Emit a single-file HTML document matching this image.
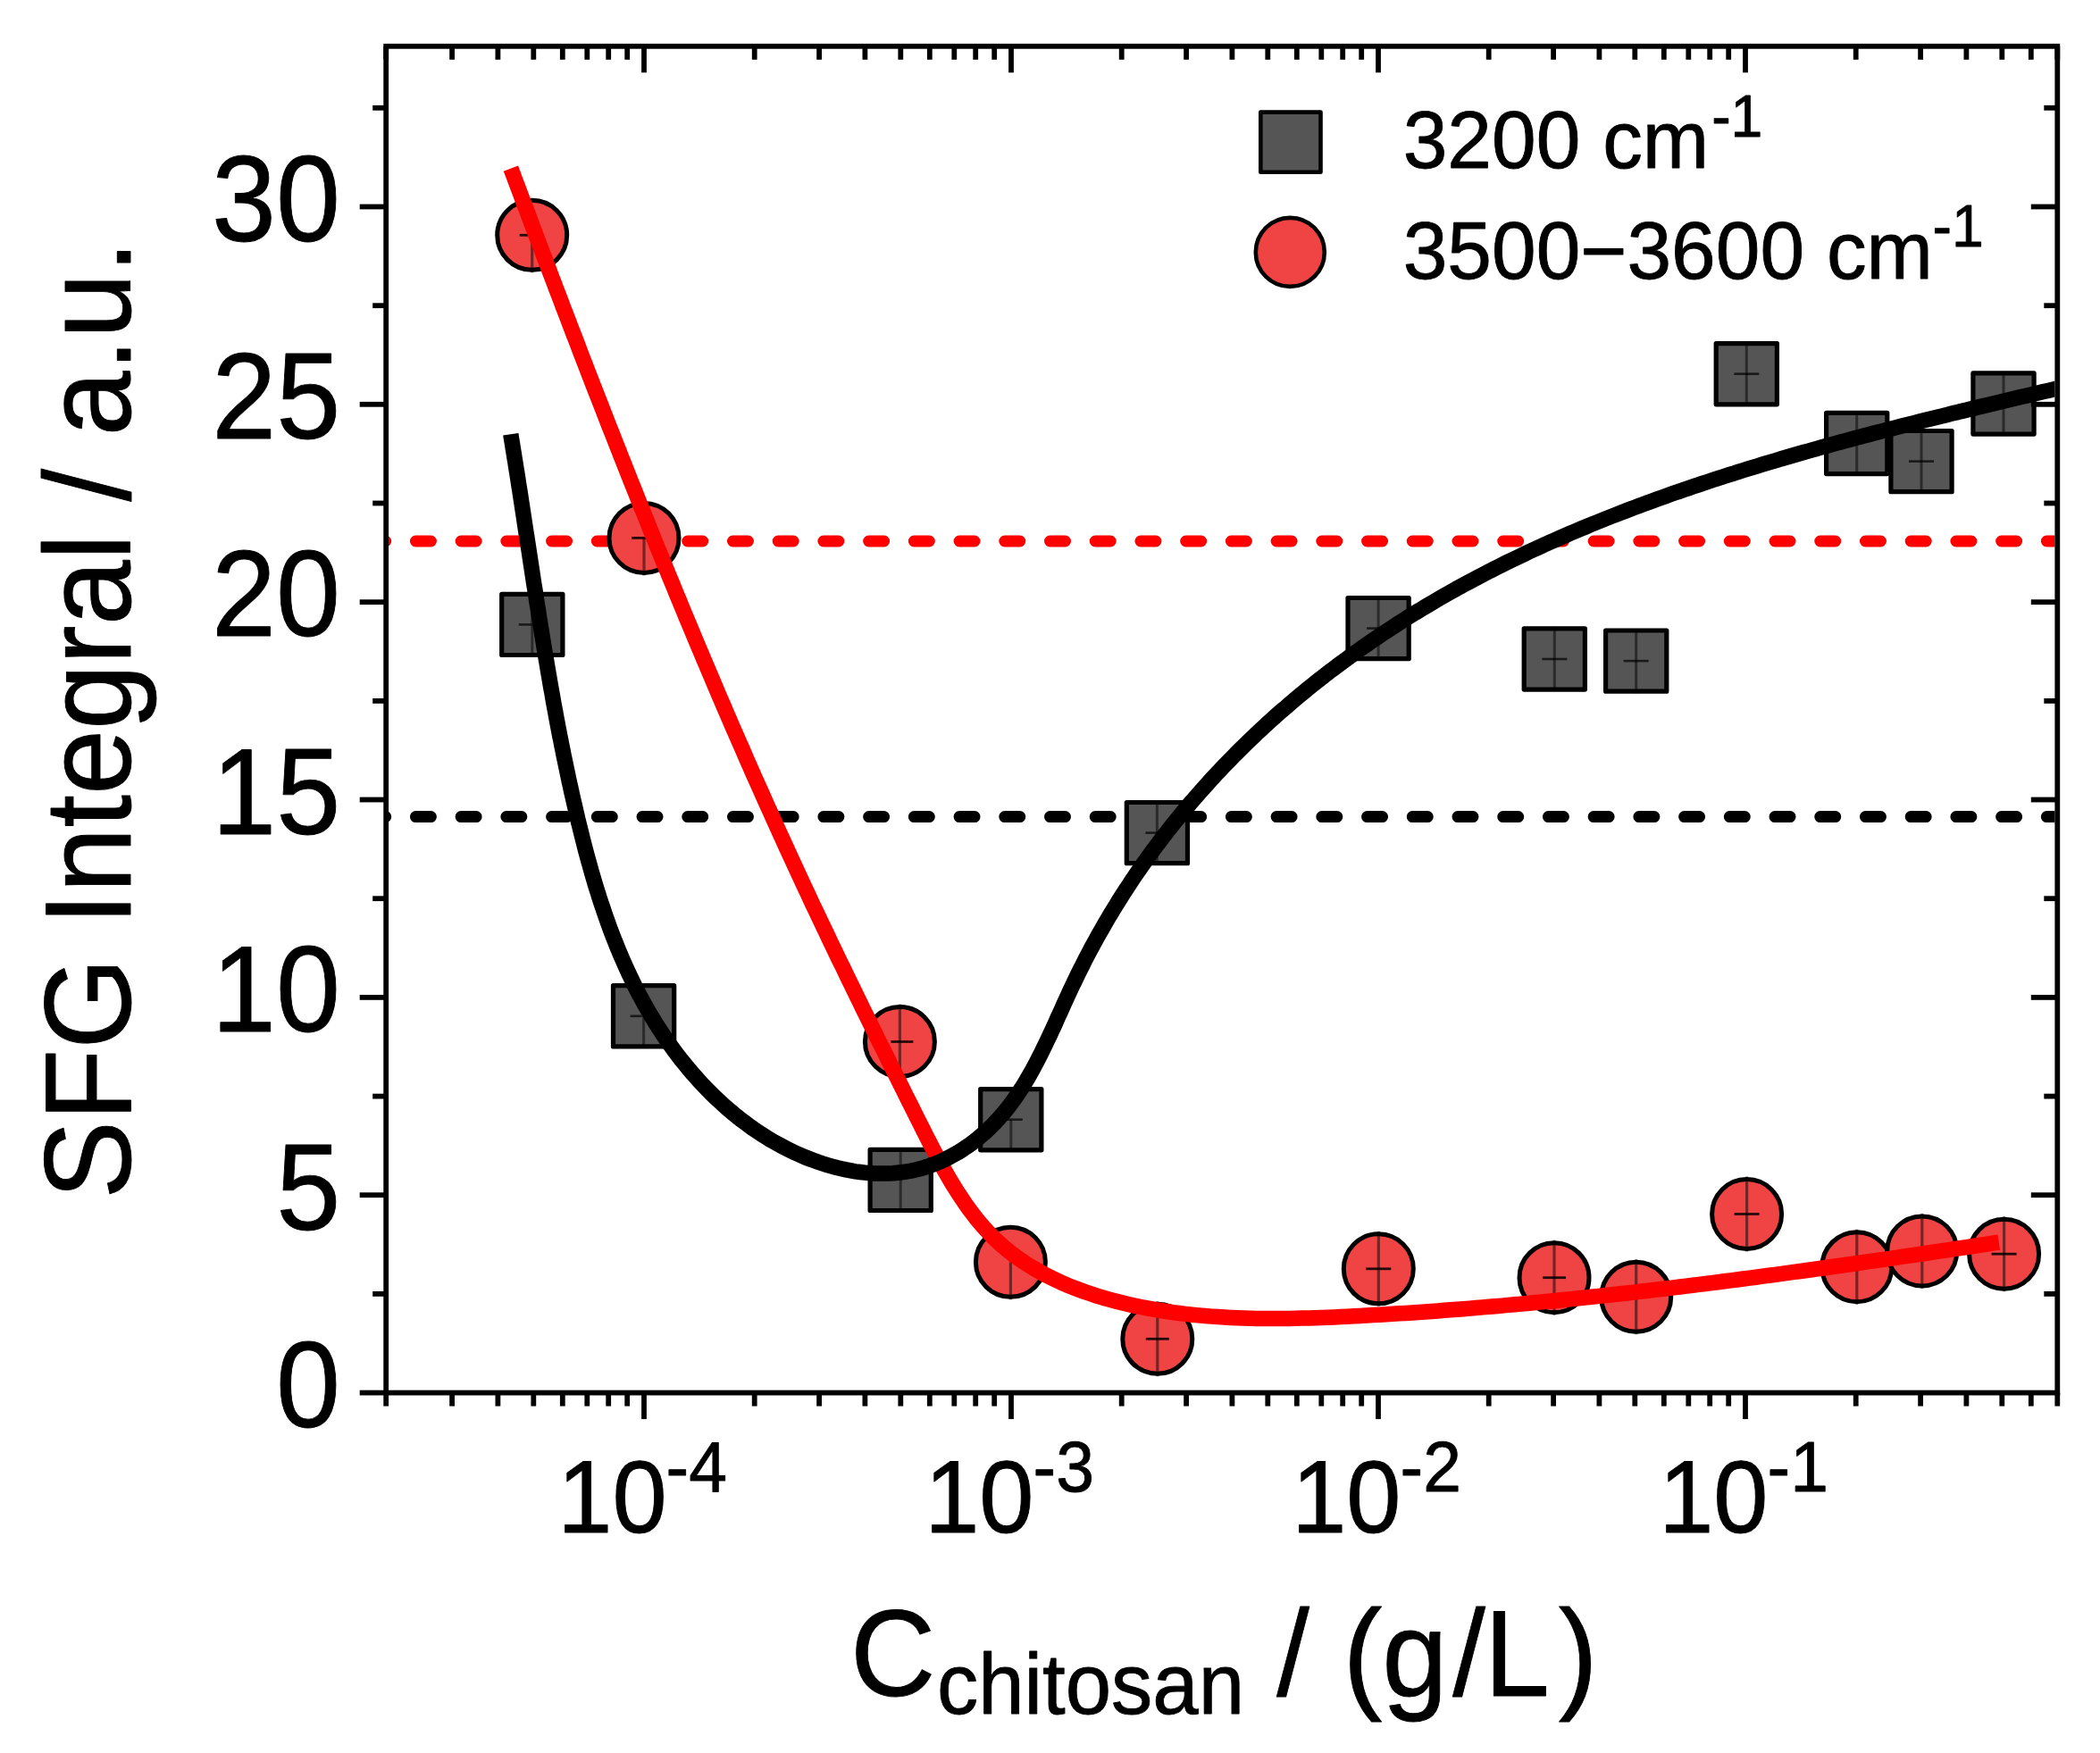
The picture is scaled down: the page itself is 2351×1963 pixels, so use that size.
<!DOCTYPE html>
<html lang="en"><head><meta charset="utf-8"><title>SFG Integral vs chitosan concentration</title><style>html,body{margin:0;padding:0;background:#fff;}body{width:2351px;height:1963px;overflow:hidden;}svg{display:block;}</style></head><body>
<svg width="2351" height="1963" viewBox="0 0 2351 1963" font-family='"Liberation Sans", sans-serif' fill="#000">
<style>text{stroke:#000;stroke-width:0.9px;stroke-linejoin:round}</style>
<rect x="0" y="0" width="2351" height="1963" fill="#fff"/>
<defs><clipPath id="pc"><rect x="432.2" y="51.8" width="1868.2" height="1507.8"/></clipPath></defs>
<g clip-path="url(#pc)" fill="none" stroke-linecap="round">
<line x1="414.7" y1="606.0" x2="2343.3" y2="606.0" stroke="#ff0000" stroke-width="13" stroke-dasharray="17 33.72"/>
<line x1="414.7" y1="914.6" x2="2343.3" y2="914.6" stroke="#000" stroke-width="13" stroke-dasharray="17 33.72"/>
</g>
<g>
<rect x="561.7" y="665.3" width="68.2" height="68.2" fill="#555555" stroke="#000" stroke-width="5.2" stroke-linejoin="round"/>
<line x1="595.8" y1="663.3" x2="595.8" y2="735.5" stroke="#000" stroke-opacity="0.5" stroke-width="3"/>
<line x1="580.8" y1="699.4" x2="595.8" y2="699.4" stroke="#000" stroke-opacity="0.7" stroke-width="2.6"/>
<rect x="686.5" y="1103.7" width="68.2" height="68.2" fill="#555555" stroke="#000" stroke-width="5.2" stroke-linejoin="round"/>
<line x1="720.6" y1="1137.8" x2="720.6" y2="1173.9" stroke="#000" stroke-opacity="0.5" stroke-width="3"/>
<line x1="705.6" y1="1137.8" x2="718.6" y2="1137.8" stroke="#000" stroke-opacity="0.7" stroke-width="2.6"/>
<rect x="974.1" y="1287.3" width="68.2" height="68.2" fill="#555555" stroke="#000" stroke-width="5.2" stroke-linejoin="round"/>
<line x1="1008.2" y1="1285.3" x2="1008.2" y2="1357.5" stroke="#000" stroke-opacity="0.5" stroke-width="3"/>
<rect x="1097.7" y="1219.6" width="68.2" height="68.2" fill="#555555" stroke="#000" stroke-width="5.2" stroke-linejoin="round"/>
<line x1="1131.8" y1="1253.7" x2="1131.8" y2="1289.8" stroke="#000" stroke-opacity="0.5" stroke-width="3"/>
<line x1="1126.8" y1="1253.7" x2="1144.8" y2="1253.7" stroke="#000" stroke-opacity="0.7" stroke-width="2.6"/>
<rect x="1261.3" y="898.5" width="68.2" height="68.2" fill="#555555" stroke="#000" stroke-width="5.2" stroke-linejoin="round"/>
<line x1="1295.4" y1="896.5" x2="1295.4" y2="968.7" stroke="#000" stroke-opacity="0.5" stroke-width="3"/>
<line x1="1282.4" y1="932.6" x2="1298.4" y2="932.6" stroke="#000" stroke-opacity="0.7" stroke-width="2.6"/>
<rect x="1509.0" y="669.5" width="68.2" height="68.2" fill="#555555" stroke="#000" stroke-width="5.2" stroke-linejoin="round"/>
<line x1="1543.1" y1="667.5" x2="1543.1" y2="739.7" stroke="#000" stroke-opacity="0.5" stroke-width="3"/>
<line x1="1530.1" y1="703.6" x2="1546.1" y2="703.6" stroke="#000" stroke-opacity="0.7" stroke-width="2.6"/>
<rect x="1706.2" y="703.9" width="68.2" height="68.2" fill="#555555" stroke="#000" stroke-width="5.2" stroke-linejoin="round"/>
<line x1="1740.3" y1="701.9" x2="1740.3" y2="774.1" stroke="#000" stroke-opacity="0.5" stroke-width="3"/>
<line x1="1726.3" y1="738.0" x2="1754.3" y2="738.0" stroke="#000" stroke-opacity="0.7" stroke-width="2.6"/>
<rect x="1797.6" y="706.0" width="68.2" height="68.2" fill="#555555" stroke="#000" stroke-width="5.2" stroke-linejoin="round"/>
<line x1="1831.7" y1="704.0" x2="1831.7" y2="776.2" stroke="#000" stroke-opacity="0.5" stroke-width="3"/>
<line x1="1817.7" y1="740.1" x2="1845.7" y2="740.1" stroke="#000" stroke-opacity="0.7" stroke-width="2.6"/>
<rect x="1921.2" y="384.6" width="68.2" height="68.2" fill="#555555" stroke="#000" stroke-width="5.2" stroke-linejoin="round"/>
<line x1="1955.3" y1="382.6" x2="1955.3" y2="454.8" stroke="#000" stroke-opacity="0.5" stroke-width="3"/>
<line x1="1941.3" y1="418.7" x2="1969.3" y2="418.7" stroke="#000" stroke-opacity="0.7" stroke-width="2.6"/>
<rect x="2044.6" y="462.4" width="68.2" height="68.2" fill="#555555" stroke="#000" stroke-width="5.2" stroke-linejoin="round"/>
<line x1="2078.7" y1="460.4" x2="2078.7" y2="532.6" stroke="#000" stroke-opacity="0.5" stroke-width="3"/>
<rect x="2116.9" y="482.5" width="68.2" height="68.2" fill="#555555" stroke="#000" stroke-width="5.2" stroke-linejoin="round"/>
<line x1="2151.0" y1="480.5" x2="2151.0" y2="552.7" stroke="#000" stroke-opacity="0.5" stroke-width="3"/>
<line x1="2137.0" y1="516.6" x2="2165.0" y2="516.6" stroke="#000" stroke-opacity="0.7" stroke-width="2.6"/>
<rect x="2208.9" y="417.9" width="68.2" height="68.2" fill="#555555" stroke="#000" stroke-width="5.2" stroke-linejoin="round"/>
<line x1="2243.0" y1="415.9" x2="2243.0" y2="488.1" stroke="#000" stroke-opacity="0.5" stroke-width="3"/>
</g>
<g>
<circle cx="595.7" cy="263.3" r="39.0" fill="#f04444" stroke="#000" stroke-width="5.0"/>
<line x1="595.7" y1="263.3" x2="595.7" y2="305.3" stroke="#000" stroke-opacity="0.5" stroke-width="3.2"/>
<line x1="581.7" y1="263.3" x2="592.7" y2="263.3" stroke="#000" stroke-opacity="0.85" stroke-width="2.8"/>
<circle cx="721.0" cy="602.4" r="39.0" fill="#f04444" stroke="#000" stroke-width="5.0"/>
<line x1="721.0" y1="602.4" x2="721.0" y2="644.4" stroke="#000" stroke-opacity="0.5" stroke-width="3.2"/>
<line x1="707.0" y1="602.4" x2="724.0" y2="602.4" stroke="#000" stroke-opacity="0.85" stroke-width="2.8"/>
<circle cx="1007.4" cy="1166.5" r="39.0" fill="#f04444" stroke="#000" stroke-width="5.0"/>
<line x1="1007.4" y1="1124.5" x2="1007.4" y2="1208.5" stroke="#000" stroke-opacity="0.5" stroke-width="3.2"/>
<line x1="997.4" y1="1166.5" x2="1022.4" y2="1166.5" stroke="#000" stroke-opacity="0.85" stroke-width="2.8"/>
<circle cx="1131.4" cy="1413.3" r="39.0" fill="#f04444" stroke="#000" stroke-width="5.0"/>
<line x1="1131.4" y1="1413.3" x2="1131.4" y2="1455.3" stroke="#000" stroke-opacity="0.5" stroke-width="3.2"/>
<circle cx="1295.8" cy="1499.3" r="39.0" fill="#f04444" stroke="#000" stroke-width="5.0"/>
<line x1="1295.8" y1="1457.3" x2="1295.8" y2="1541.3" stroke="#000" stroke-opacity="0.5" stroke-width="3.2"/>
<line x1="1282.8" y1="1499.3" x2="1308.8" y2="1499.3" stroke="#000" stroke-opacity="0.85" stroke-width="2.8"/>
<circle cx="1543.3" cy="1420.8" r="39.0" fill="#f04444" stroke="#000" stroke-width="5.0"/>
<line x1="1543.3" y1="1378.8" x2="1543.3" y2="1462.8" stroke="#000" stroke-opacity="0.5" stroke-width="3.2"/>
<line x1="1529.3" y1="1420.8" x2="1557.3" y2="1420.8" stroke="#000" stroke-opacity="0.85" stroke-width="2.8"/>
<circle cx="1740.0" cy="1430.7" r="39.0" fill="#f04444" stroke="#000" stroke-width="5.0"/>
<line x1="1740.0" y1="1388.7" x2="1740.0" y2="1472.7" stroke="#000" stroke-opacity="0.5" stroke-width="3.2"/>
<line x1="1727.0" y1="1430.7" x2="1753.0" y2="1430.7" stroke="#000" stroke-opacity="0.85" stroke-width="2.8"/>
<circle cx="1831.7" cy="1452.2" r="39.0" fill="#f04444" stroke="#000" stroke-width="5.0"/>
<line x1="1831.7" y1="1410.2" x2="1831.7" y2="1494.2" stroke="#000" stroke-opacity="0.5" stroke-width="3.2"/>
<circle cx="1955.6" cy="1359.5" r="39.0" fill="#f04444" stroke="#000" stroke-width="5.0"/>
<line x1="1955.6" y1="1317.5" x2="1955.6" y2="1401.5" stroke="#000" stroke-opacity="0.5" stroke-width="3.2"/>
<line x1="1941.6" y1="1359.5" x2="1969.6" y2="1359.5" stroke="#000" stroke-opacity="0.85" stroke-width="2.8"/>
<circle cx="2078.8" cy="1418.7" r="39.0" fill="#f04444" stroke="#000" stroke-width="5.0"/>
<line x1="2078.8" y1="1376.7" x2="2078.8" y2="1460.7" stroke="#000" stroke-opacity="0.5" stroke-width="3.2"/>
<circle cx="2151.8" cy="1400.9" r="39.0" fill="#f04444" stroke="#000" stroke-width="5.0"/>
<line x1="2151.8" y1="1358.9" x2="2151.8" y2="1442.9" stroke="#000" stroke-opacity="0.5" stroke-width="3.2"/>
<line x1="2137.8" y1="1400.9" x2="2151.8" y2="1400.9" stroke="#000" stroke-opacity="0.85" stroke-width="2.8"/>
<circle cx="2243.6" cy="1404.2" r="39.0" fill="#f04444" stroke="#000" stroke-width="5.0"/>
<line x1="2243.6" y1="1362.2" x2="2243.6" y2="1446.2" stroke="#000" stroke-opacity="0.5" stroke-width="3.2"/>
<line x1="2229.6" y1="1404.2" x2="2257.6" y2="1404.2" stroke="#000" stroke-opacity="0.85" stroke-width="2.8"/>
</g>
<g clip-path="url(#pc)" fill="none" stroke-linejoin="round" stroke-linecap="butt">
<path d="M571.9 188.6 L574.4 195.3 L576.9 202.0 L579.5 208.8 L582.0 215.5 L584.5 222.2 L587.0 229.0 L589.6 235.7 L592.1 242.4 L594.6 249.1 L597.2 255.9 L599.7 262.6 L602.2 269.3 L604.8 276.1 L607.3 282.8 L609.9 289.5 L612.4 296.3 L615.0 303.0 L617.5 309.7 L620.1 316.4 L622.6 323.2 L625.2 329.9 L627.8 336.6 L630.3 343.4 L632.9 350.1 L635.5 356.8 L638.0 363.5 L640.6 370.3 L643.2 377.0 L645.8 383.7 L648.4 390.5 L650.9 397.2 L653.5 403.9 L656.1 410.6 L658.7 417.3 L661.3 424.1 L663.9 430.8 L666.5 437.5 L669.1 444.2 L671.8 450.9 L674.4 457.6 L677.0 464.4 L679.6 471.1 L682.2 477.8 L684.9 484.5 L687.5 491.2 L690.1 497.9 L692.8 504.6 L695.4 511.3 L698.1 518.0 L700.7 524.7 L703.4 531.4 L706.0 538.1 L708.7 544.8 L711.4 551.5 L714.0 558.2 L716.7 564.9 L719.4 571.6 L722.1 578.3 L724.8 584.9 L727.4 591.6 L730.1 598.3 L732.8 605.0 L735.5 611.7 L738.3 618.3 L741.0 625.0 L743.7 631.7 L746.4 638.3 L749.1 645.0 L751.9 651.7 L754.6 658.3 L757.3 665.0 L760.1 671.7 L762.8 678.3 L765.6 685.0 L768.3 691.6 L771.1 698.2 L773.9 704.9 L776.6 711.5 L779.4 718.2 L782.2 724.8 L785.0 731.4 L787.8 738.1 L790.6 744.7 L793.4 751.3 L796.2 757.9 L799.0 764.5 L801.8 771.2 L804.6 777.8 L807.5 784.4 L810.3 791.0 L813.1 797.6 L816.0 804.2 L818.8 810.8 L821.7 817.4 L824.5 823.9 L827.4 830.5 L830.3 837.1 L833.2 843.7 L836.0 850.3 L838.9 856.8 L841.8 863.4 L844.7 870.0 L847.6 876.5 L850.6 883.1 L853.5 889.6 L856.4 896.2 L859.3 902.7 L862.3 909.2 L865.2 915.8 L868.2 922.3 L871.1 928.8 L874.1 935.4 L877.1 941.9 L880.0 948.4 L883.0 954.9 L886.0 961.4 L889.0 967.9 L892.0 974.4 L895.0 980.9 L898.0 987.4 L901.0 993.9 L904.1 1000.3 L907.1 1006.8 L910.1 1013.3 L913.2 1019.7 L916.3 1026.2 L919.3 1032.7 L922.4 1039.1 L925.5 1045.6 L928.5 1052.0 L931.6 1058.5 L934.7 1064.9 L937.8 1071.4 L940.9 1077.8 L944.1 1084.2 L947.2 1090.7 L950.3 1097.1 L953.4 1103.6 L956.6 1110.0 L959.7 1116.5 L962.9 1122.9 L966.0 1129.4 L969.2 1135.8 L972.4 1142.3 L975.6 1148.8 L978.8 1155.2 L981.9 1161.7 L985.1 1168.2 L988.4 1174.6 L991.6 1181.1 L994.8 1187.6 L998.0 1194.1 L1001.2 1200.6 L1004.5 1207.1 L1007.7 1213.6 L1011.0 1220.1 L1014.2 1226.7 L1017.5 1233.2 L1020.8 1239.7 L1024.0 1246.3 L1027.3 1252.9 L1030.6 1259.4 L1033.9 1266.0 L1037.2 1272.6 L1040.6 1279.1 L1043.9 1285.7 L1047.4 1292.2 L1050.8 1298.6 L1054.3 1305.1 L1057.9 1311.4 L1061.5 1317.7 L1065.2 1324.0 L1069.0 1330.1 L1072.8 1336.2 L1076.8 1342.2 L1080.8 1348.1 L1084.9 1353.9 L1089.2 1359.5 L1093.5 1365.1 L1098.0 1370.5 L1102.6 1375.7 L1107.4 1380.9 L1112.2 1385.8 L1117.3 1390.6 L1122.4 1395.3 L1127.8 1399.7 L1133.2 1404.0 L1138.8 1408.2 L1144.5 1412.2 L1150.4 1416.0 L1156.3 1419.7 L1162.4 1423.2 L1168.5 1426.6 L1174.8 1429.8 L1181.2 1432.9 L1187.6 1435.9 L1194.2 1438.8 L1200.8 1441.5 L1207.5 1444.0 L1214.3 1446.5 L1221.1 1448.8 L1227.9 1451.1 L1234.9 1453.2 L1241.8 1455.1 L1248.9 1457.0 L1255.9 1458.8 L1263.0 1460.5 L1270.1 1462.1 L1277.2 1463.5 L1284.3 1464.9 L1291.4 1466.2 L1298.6 1467.4 L1305.7 1468.5 L1312.9 1469.6 L1320.1 1470.5 L1327.3 1471.4 L1334.5 1472.2 L1341.7 1472.9 L1348.9 1473.5 L1356.1 1474.1 L1363.3 1474.6 L1370.6 1475.1 L1377.8 1475.5 L1385.1 1475.8 L1392.3 1476.0 L1399.6 1476.2 L1406.8 1476.4 L1414.1 1476.5 L1421.4 1476.5 L1428.6 1476.5 L1435.9 1476.5 L1443.2 1476.4 L1450.4 1476.3 L1457.7 1476.1 L1465.0 1476.0 L1472.3 1475.7 L1479.5 1475.5 L1486.8 1475.2 L1494.1 1474.9 L1501.3 1474.5 L1508.6 1474.2 L1515.8 1473.8 L1523.1 1473.4 L1530.3 1473.0 L1537.6 1472.6 L1544.8 1472.2 L1552.0 1471.8 L1559.2 1471.3 L1566.5 1470.8 L1573.7 1470.4 L1580.9 1469.9 L1588.1 1469.4 L1595.3 1468.9 L1602.5 1468.4 L1609.7 1467.9 L1616.9 1467.3 L1624.0 1466.8 L1631.2 1466.2 L1638.4 1465.7 L1645.6 1465.1 L1652.7 1464.5 L1659.9 1463.9 L1667.1 1463.3 L1674.2 1462.7 L1681.4 1462.1 L1688.5 1461.4 L1695.7 1460.8 L1702.8 1460.1 L1709.9 1459.5 L1717.1 1458.8 L1724.2 1458.1 L1731.3 1457.4 L1738.5 1456.7 L1745.6 1456.0 L1752.7 1455.3 L1759.8 1454.6 L1767.0 1453.8 L1774.1 1453.1 L1781.2 1452.3 L1788.3 1451.6 L1795.4 1450.8 L1802.5 1450.0 L1809.7 1449.3 L1816.8 1448.5 L1823.9 1447.7 L1831.0 1446.9 L1838.1 1446.0 L1845.2 1445.2 L1852.3 1444.4 L1859.4 1443.5 L1866.5 1442.7 L1873.6 1441.9 L1880.7 1441.0 L1887.8 1440.1 L1894.9 1439.3 L1902.0 1438.4 L1909.1 1437.5 L1916.2 1436.6 L1923.3 1435.7 L1930.4 1434.8 L1937.5 1433.9 L1944.6 1433.0 L1951.7 1432.0 L1958.8 1431.1 L1965.9 1430.2 L1973.0 1429.2 L1980.2 1428.3 L1987.3 1427.3 L1994.4 1426.4 L2001.5 1425.4 L2008.6 1424.4 L2015.7 1423.5 L2022.8 1422.5 L2030.0 1421.5 L2037.1 1420.5 L2044.2 1419.5 L2051.3 1418.5 L2058.5 1417.5 L2065.6 1416.5 L2072.7 1415.5 L2079.9 1414.5 L2087.0 1413.4 L2094.1 1412.4 L2101.3 1411.4 L2108.4 1410.3 L2115.6 1409.3 L2122.7 1408.3 L2129.9 1407.2 L2137.0 1406.2 L2144.2 1405.1 L2151.4 1404.1 L2158.6 1403.0 L2165.7 1401.9 L2172.9 1400.9 L2180.1 1399.8 L2187.3 1398.7 L2194.5 1397.6 L2201.7 1396.6 L2208.9 1395.5 L2216.1 1394.4 L2223.3 1393.3 L2230.5 1392.2 L2237.7 1391.1" stroke="#ff0000" stroke-width="17.5"/>
<path d="M571.8 486.2 L572.6 491.5 L573.5 496.8 L574.3 502.0 L575.2 507.3 L576.0 512.6 L576.9 517.9 L577.7 523.2 L578.6 528.5 L579.4 533.7 L580.2 539.0 L581.0 544.3 L581.9 549.6 L582.7 554.9 L583.5 560.2 L584.3 565.4 L585.1 570.7 L585.9 576.0 L586.7 581.3 L587.5 586.6 L588.3 591.9 L589.1 597.1 L590.0 602.4 L590.8 607.7 L591.6 613.0 L592.4 618.3 L593.2 623.6 L594.0 628.8 L594.8 634.1 L595.6 639.4 L596.4 644.7 L597.2 650.0 L598.0 655.2 L598.9 660.5 L599.7 665.8 L600.5 671.1 L601.3 676.4 L602.2 681.6 L603.0 686.9 L603.8 692.2 L604.7 697.5 L605.5 702.7 L606.4 708.0 L607.2 713.3 L608.1 718.6 L608.9 723.8 L609.8 729.1 L610.7 734.4 L611.6 739.6 L612.5 744.9 L613.4 750.2 L614.3 755.4 L615.2 760.7 L616.1 766.0 L617.0 771.2 L618.0 776.5 L618.9 781.8 L619.8 787.0 L620.8 792.3 L621.8 797.5 L622.7 802.8 L623.7 808.0 L624.7 813.3 L625.7 818.5 L626.7 823.8 L627.8 829.0 L628.8 834.3 L629.9 839.5 L630.9 844.8 L632.0 850.0 L633.1 855.3 L634.2 860.5 L635.3 865.7 L636.4 871.0 L637.5 876.2 L638.7 881.4 L639.8 886.7 L641.0 891.9 L642.2 897.1 L643.4 902.3 L644.6 907.6 L645.8 912.8 L647.0 918.0 L648.3 923.2 L649.6 928.4 L650.9 933.6 L652.2 938.8 L653.5 944.0 L654.8 949.2 L656.2 954.4 L657.6 959.6 L659.0 964.8 L660.5 969.9 L661.9 975.1 L663.4 980.2 L664.9 985.4 L666.4 990.5 L668.0 995.6 L669.6 1000.7 L671.2 1005.8 L672.9 1010.9 L674.6 1015.9 L676.3 1021.0 L678.0 1026.0 L679.8 1031.0 L681.6 1036.1 L683.4 1041.1 L685.3 1046.0 L687.2 1051.0 L689.2 1055.9 L691.2 1060.9 L693.2 1065.8 L695.3 1070.7 L697.4 1075.5 L699.5 1080.4 L701.7 1085.2 L703.9 1090.0 L706.2 1094.8 L708.5 1099.6 L710.8 1104.3 L713.2 1109.1 L715.7 1113.8 L718.2 1118.4 L720.7 1123.1 L723.3 1127.7 L725.9 1132.3 L728.6 1136.9 L731.4 1141.4 L734.1 1146.0 L737.0 1150.5 L739.9 1154.9 L742.8 1159.4 L745.8 1163.8 L748.9 1168.2 L752.0 1172.5 L755.1 1176.8 L758.3 1181.1 L761.6 1185.4 L765.0 1189.6 L768.4 1193.8 L771.8 1197.9 L775.3 1202.0 L778.9 1206.1 L782.5 1210.1 L786.2 1214.1 L789.9 1218.0 L793.7 1221.9 L797.5 1225.7 L801.4 1229.5 L805.4 1233.2 L809.4 1236.9 L813.4 1240.5 L817.6 1244.0 L821.7 1247.5 L825.9 1250.9 L830.2 1254.3 L834.6 1257.6 L838.9 1260.8 L843.4 1264.0 L847.9 1267.0 L852.4 1270.0 L857.0 1272.9 L861.6 1275.8 L866.3 1278.5 L871.1 1281.2 L875.9 1283.8 L880.7 1286.3 L885.6 1288.8 L890.6 1291.1 L895.6 1293.3 L900.6 1295.5 L905.7 1297.5 L910.8 1299.4 L916.0 1301.3 L921.1 1303.0 L926.3 1304.6 L931.6 1306.1 L936.8 1307.5 L942.0 1308.7 L947.3 1309.9 L952.6 1310.9 L957.8 1311.8 L963.1 1312.5 L968.4 1313.1 L973.6 1313.6 L978.9 1313.9 L984.1 1314.1 L989.3 1314.1 L994.5 1314.0 L999.7 1313.8 L1004.8 1313.3 L1010.0 1312.7 L1015.0 1312.0 L1020.1 1311.1 L1025.1 1310.0 L1030.0 1308.8 L1034.9 1307.3 L1039.8 1305.8 L1044.6 1304.1 L1049.3 1302.2 L1054.0 1300.2 L1058.6 1298.0 L1063.2 1295.7 L1067.7 1293.2 L1072.2 1290.7 L1076.6 1288.0 L1080.9 1285.1 L1085.1 1282.2 L1089.3 1279.1 L1093.4 1275.9 L1097.4 1272.6 L1101.4 1269.2 L1105.2 1265.7 L1109.0 1262.1 L1112.7 1258.4 L1116.3 1254.6 L1119.8 1250.7 L1123.2 1246.8 L1126.5 1242.7 L1129.8 1238.6 L1132.9 1234.4 L1136.0 1230.1 L1139.0 1225.8 L1141.9 1221.4 L1144.8 1216.9 L1147.6 1212.4 L1150.3 1207.8 L1153.0 1203.1 L1155.6 1198.5 L1158.2 1193.7 L1160.7 1189.0 L1163.2 1184.1 L1165.6 1179.3 L1168.0 1174.4 L1170.4 1169.5 L1172.7 1164.6 L1175.1 1159.6 L1177.4 1154.6 L1179.7 1149.7 L1182.0 1144.6 L1184.2 1139.6 L1186.5 1134.6 L1188.8 1129.6 L1191.0 1124.6 L1193.3 1119.6 L1195.6 1114.5 L1197.9 1109.5 L1200.2 1104.6 L1202.6 1099.6 L1205.0 1094.6 L1207.4 1089.7 L1209.8 1084.8 L1212.3 1079.9 L1214.7 1075.0 L1217.2 1070.2 L1219.8 1065.4 L1222.3 1060.6 L1224.9 1055.8 L1227.6 1051.0 L1230.2 1046.3 L1232.9 1041.6 L1235.6 1036.9 L1238.3 1032.2 L1241.0 1027.5 L1243.8 1022.9 L1246.6 1018.3 L1249.4 1013.7 L1252.2 1009.1 L1255.1 1004.5 L1258.0 1000.0 L1260.9 995.5 L1263.9 991.0 L1266.8 986.5 L1269.8 982.0 L1272.8 977.6 L1275.9 973.2 L1278.9 968.8 L1282.0 964.4 L1285.1 960.1 L1288.3 955.7 L1291.4 951.4 L1294.6 947.1 L1297.8 942.9 L1301.0 938.6 L1304.3 934.4 L1307.5 930.2 L1310.8 926.0 L1314.2 921.8 L1317.5 917.7 L1320.9 913.6 L1324.2 909.4 L1327.6 905.4 L1331.1 901.3 L1334.5 897.2 L1338.0 893.2 L1341.5 889.2 L1345.0 885.2 L1348.5 881.3 L1352.1 877.3 L1355.6 873.4 L1359.2 869.5 L1362.8 865.6 L1366.5 861.8 L1370.1 857.9 L1373.8 854.1 L1377.5 850.3 L1381.2 846.5 L1384.9 842.8 L1388.7 839.0 L1392.5 835.3 L1396.2 831.6 L1400.1 827.9 L1403.9 824.3 L1407.7 820.6 L1411.6 817.0 L1415.5 813.4 L1419.4 809.8 L1423.3 806.3 L1427.2 802.7 L1431.2 799.2 L1435.2 795.7 L1439.2 792.3 L1443.2 788.8 L1447.2 785.4 L1451.3 781.9 L1455.3 778.6 L1459.4 775.2 L1463.5 771.8 L1467.6 768.5 L1471.8 765.2 L1475.9 761.9 L1480.1 758.6 L1484.2 755.4 L1488.4 752.1 L1492.7 748.9 L1496.9 745.7 L1501.1 742.6 L1505.4 739.4 L1509.7 736.3 L1514.0 733.2 L1518.3 730.1 L1522.6 727.0 L1526.9 723.9 L1531.3 720.9 L1535.6 717.9 L1540.0 714.9 L1544.4 711.9 L1548.8 709.0 L1553.3 706.1 L1557.7 703.2 L1562.2 700.3 L1566.6 697.4 L1571.1 694.6 L1575.6 691.7 L1580.1 688.9 L1584.6 686.1 L1589.2 683.4 L1593.7 680.6 L1598.3 677.9 L1602.8 675.2 L1607.4 672.5 L1612.0 669.8 L1616.6 667.2 L1621.3 664.5 L1625.9 661.9 L1630.5 659.3 L1635.2 656.8 L1639.9 654.2 L1644.5 651.7 L1649.2 649.2 L1653.9 646.7 L1658.7 644.2 L1663.4 641.8 L1668.1 639.3 L1672.9 636.9 L1677.6 634.5 L1682.4 632.1 L1687.2 629.7 L1692.0 627.4 L1696.8 625.1 L1701.6 622.8 L1706.4 620.5 L1711.2 618.2 L1716.1 615.9 L1720.9 613.7 L1725.8 611.5 L1730.7 609.2 L1735.5 607.1 L1740.4 604.9 L1745.3 602.7 L1750.2 600.6 L1755.1 598.4 L1760.1 596.3 L1765.0 594.2 L1769.9 592.2 L1774.9 590.1 L1779.8 588.0 L1784.8 586.0 L1789.8 584.0 L1794.7 582.0 L1799.7 580.0 L1804.7 578.0 L1809.7 576.1 L1814.7 574.1 L1819.7 572.2 L1824.7 570.3 L1829.8 568.4 L1834.8 566.5 L1839.8 564.6 L1844.9 562.7 L1849.9 560.9 L1855.0 559.0 L1860.1 557.2 L1865.1 555.4 L1870.2 553.6 L1875.3 551.8 L1880.4 550.1 L1885.5 548.3 L1890.6 546.6 L1895.7 544.8 L1900.8 543.1 L1905.9 541.4 L1911.0 539.7 L1916.1 538.0 L1921.2 536.3 L1926.4 534.7 L1931.5 533.0 L1936.6 531.4 L1941.8 529.8 L1946.9 528.1 L1952.1 526.5 L1957.2 524.9 L1962.4 523.3 L1967.5 521.8 L1972.7 520.2 L1977.8 518.6 L1983.0 517.1 L1988.2 515.6 L1993.3 514.0 L1998.5 512.5 L2003.7 511.0 L2008.8 509.5 L2014.0 508.0 L2019.2 506.5 L2024.4 505.1 L2029.6 503.6 L2034.8 502.2 L2039.9 500.7 L2045.1 499.3 L2050.3 497.8 L2055.5 496.4 L2060.7 495.0 L2065.9 493.6 L2071.1 492.2 L2076.3 490.8 L2081.4 489.4 L2086.6 488.1 L2091.8 486.7 L2097.0 485.3 L2102.2 484.0 L2107.4 482.6 L2112.6 481.3 L2117.8 480.0 L2123.0 478.6 L2128.1 477.3 L2133.3 476.0 L2138.5 474.7 L2143.7 473.4 L2148.9 472.1 L2154.1 470.8 L2159.2 469.5 L2164.4 468.2 L2169.6 466.9 L2174.8 465.7 L2179.9 464.4 L2185.1 463.1 L2190.3 461.9 L2195.4 460.6 L2200.6 459.4 L2205.7 458.1 L2210.9 456.9 L2216.0 455.6 L2221.2 454.4 L2226.3 453.2 L2231.5 451.9 L2236.6 450.7 L2241.7 449.5 L2246.9 448.3 L2252.0 447.1 L2257.1 445.8 L2262.2 444.6 L2267.3 443.4 L2272.4 442.2 L2277.5 441.0 L2282.6 439.8 L2287.7 438.6 L2292.8 437.4 L2297.9 436.2 L2303.0 435.0 L2308.0 433.8 L2313.1 432.6 L2318.1 431.5 L2323.2 430.3 L2328.2 429.1" stroke="#000" stroke-width="17.5"/>
</g>
<g stroke="#000" stroke-width="5.8" fill="none" stroke-linecap="butt">
<rect x="432.2" y="51.8" width="1871.1000000000001" height="1507.8"/>
<line x1="402.7" y1="1559.6" x2="432.2" y2="1559.6"/>
<line x1="417.2" y1="1448.9" x2="432.2" y2="1448.9"/>
<line x1="2288.3" y1="1448.9" x2="2303.3" y2="1448.9"/>
<line x1="402.7" y1="1338.2" x2="432.2" y2="1338.2"/>
<line x1="2273.8" y1="1338.2" x2="2303.3" y2="1338.2"/>
<line x1="417.2" y1="1227.6" x2="432.2" y2="1227.6"/>
<line x1="2288.3" y1="1227.6" x2="2303.3" y2="1227.6"/>
<line x1="402.7" y1="1116.9" x2="432.2" y2="1116.9"/>
<line x1="2273.8" y1="1116.9" x2="2303.3" y2="1116.9"/>
<line x1="417.2" y1="1006.2" x2="432.2" y2="1006.2"/>
<line x1="2288.3" y1="1006.2" x2="2303.3" y2="1006.2"/>
<line x1="402.7" y1="895.5" x2="432.2" y2="895.5"/>
<line x1="2273.8" y1="895.5" x2="2303.3" y2="895.5"/>
<line x1="417.2" y1="784.9" x2="432.2" y2="784.9"/>
<line x1="2288.3" y1="784.9" x2="2303.3" y2="784.9"/>
<line x1="402.7" y1="674.2" x2="432.2" y2="674.2"/>
<line x1="2273.8" y1="674.2" x2="2303.3" y2="674.2"/>
<line x1="417.2" y1="563.5" x2="432.2" y2="563.5"/>
<line x1="2288.3" y1="563.5" x2="2303.3" y2="563.5"/>
<line x1="402.7" y1="452.8" x2="432.2" y2="452.8"/>
<line x1="2273.8" y1="452.8" x2="2303.3" y2="452.8"/>
<line x1="417.2" y1="342.2" x2="432.2" y2="342.2"/>
<line x1="2288.3" y1="342.2" x2="2303.3" y2="342.2"/>
<line x1="402.7" y1="231.5" x2="432.2" y2="231.5"/>
<line x1="2273.8" y1="231.5" x2="2303.3" y2="231.5"/>
<line x1="417.2" y1="120.8" x2="432.2" y2="120.8"/>
<line x1="2288.3" y1="120.8" x2="2303.3" y2="120.8"/>
<line x1="432.2" y1="51.8" x2="432.2" y2="66.8"/>
<line x1="432.2" y1="1559.6" x2="432.2" y2="1574.6"/>
<line x1="506.1" y1="51.8" x2="506.1" y2="66.8"/>
<line x1="506.1" y1="1559.6" x2="506.1" y2="1574.6"/>
<line x1="557.4" y1="51.8" x2="557.4" y2="66.8"/>
<line x1="557.4" y1="1559.6" x2="557.4" y2="1574.6"/>
<line x1="597.3" y1="51.8" x2="597.3" y2="66.8"/>
<line x1="597.3" y1="1559.6" x2="597.3" y2="1574.6"/>
<line x1="629.8" y1="51.8" x2="629.8" y2="66.8"/>
<line x1="629.8" y1="1559.6" x2="629.8" y2="1574.6"/>
<line x1="657.3" y1="51.8" x2="657.3" y2="66.8"/>
<line x1="657.3" y1="1559.6" x2="657.3" y2="1574.6"/>
<line x1="681.2" y1="51.8" x2="681.2" y2="66.8"/>
<line x1="681.2" y1="1559.6" x2="681.2" y2="1574.6"/>
<line x1="702.2" y1="51.8" x2="702.2" y2="66.8"/>
<line x1="702.2" y1="1559.6" x2="702.2" y2="1574.6"/>
<line x1="721.0" y1="51.8" x2="721.0" y2="81.3"/>
<line x1="721.0" y1="1559.6" x2="721.0" y2="1589.1"/>
<line x1="844.7" y1="51.8" x2="844.7" y2="66.8"/>
<line x1="844.7" y1="1559.6" x2="844.7" y2="1574.6"/>
<line x1="917.1" y1="51.8" x2="917.1" y2="66.8"/>
<line x1="917.1" y1="1559.6" x2="917.1" y2="1574.6"/>
<line x1="968.4" y1="51.8" x2="968.4" y2="66.8"/>
<line x1="968.4" y1="1559.6" x2="968.4" y2="1574.6"/>
<line x1="1008.3" y1="51.8" x2="1008.3" y2="66.8"/>
<line x1="1008.3" y1="1559.6" x2="1008.3" y2="1574.6"/>
<line x1="1040.8" y1="51.8" x2="1040.8" y2="66.8"/>
<line x1="1040.8" y1="1559.6" x2="1040.8" y2="1574.6"/>
<line x1="1068.3" y1="51.8" x2="1068.3" y2="66.8"/>
<line x1="1068.3" y1="1559.6" x2="1068.3" y2="1574.6"/>
<line x1="1092.2" y1="51.8" x2="1092.2" y2="66.8"/>
<line x1="1092.2" y1="1559.6" x2="1092.2" y2="1574.6"/>
<line x1="1113.2" y1="51.8" x2="1113.2" y2="66.8"/>
<line x1="1113.2" y1="1559.6" x2="1113.2" y2="1574.6"/>
<line x1="1132.0" y1="51.8" x2="1132.0" y2="81.3"/>
<line x1="1132.0" y1="1559.6" x2="1132.0" y2="1589.1"/>
<line x1="1255.7" y1="51.8" x2="1255.7" y2="66.8"/>
<line x1="1255.7" y1="1559.6" x2="1255.7" y2="1574.6"/>
<line x1="1328.1" y1="51.8" x2="1328.1" y2="66.8"/>
<line x1="1328.1" y1="1559.6" x2="1328.1" y2="1574.6"/>
<line x1="1379.4" y1="51.8" x2="1379.4" y2="66.8"/>
<line x1="1379.4" y1="1559.6" x2="1379.4" y2="1574.6"/>
<line x1="1419.3" y1="51.8" x2="1419.3" y2="66.8"/>
<line x1="1419.3" y1="1559.6" x2="1419.3" y2="1574.6"/>
<line x1="1451.8" y1="51.8" x2="1451.8" y2="66.8"/>
<line x1="1451.8" y1="1559.6" x2="1451.8" y2="1574.6"/>
<line x1="1479.3" y1="51.8" x2="1479.3" y2="66.8"/>
<line x1="1479.3" y1="1559.6" x2="1479.3" y2="1574.6"/>
<line x1="1503.2" y1="51.8" x2="1503.2" y2="66.8"/>
<line x1="1503.2" y1="1559.6" x2="1503.2" y2="1574.6"/>
<line x1="1524.2" y1="51.8" x2="1524.2" y2="66.8"/>
<line x1="1524.2" y1="1559.6" x2="1524.2" y2="1574.6"/>
<line x1="1543.0" y1="51.8" x2="1543.0" y2="81.3"/>
<line x1="1543.0" y1="1559.6" x2="1543.0" y2="1589.1"/>
<line x1="1666.7" y1="51.8" x2="1666.7" y2="66.8"/>
<line x1="1666.7" y1="1559.6" x2="1666.7" y2="1574.6"/>
<line x1="1739.1" y1="51.8" x2="1739.1" y2="66.8"/>
<line x1="1739.1" y1="1559.6" x2="1739.1" y2="1574.6"/>
<line x1="1790.4" y1="51.8" x2="1790.4" y2="66.8"/>
<line x1="1790.4" y1="1559.6" x2="1790.4" y2="1574.6"/>
<line x1="1830.3" y1="51.8" x2="1830.3" y2="66.8"/>
<line x1="1830.3" y1="1559.6" x2="1830.3" y2="1574.6"/>
<line x1="1862.8" y1="51.8" x2="1862.8" y2="66.8"/>
<line x1="1862.8" y1="1559.6" x2="1862.8" y2="1574.6"/>
<line x1="1890.3" y1="51.8" x2="1890.3" y2="66.8"/>
<line x1="1890.3" y1="1559.6" x2="1890.3" y2="1574.6"/>
<line x1="1914.2" y1="51.8" x2="1914.2" y2="66.8"/>
<line x1="1914.2" y1="1559.6" x2="1914.2" y2="1574.6"/>
<line x1="1935.2" y1="51.8" x2="1935.2" y2="66.8"/>
<line x1="1935.2" y1="1559.6" x2="1935.2" y2="1574.6"/>
<line x1="1954.0" y1="51.8" x2="1954.0" y2="81.3"/>
<line x1="1954.0" y1="1559.6" x2="1954.0" y2="1589.1"/>
<line x1="2077.7" y1="51.8" x2="2077.7" y2="66.8"/>
<line x1="2077.7" y1="1559.6" x2="2077.7" y2="1574.6"/>
<line x1="2150.1" y1="51.8" x2="2150.1" y2="66.8"/>
<line x1="2150.1" y1="1559.6" x2="2150.1" y2="1574.6"/>
<line x1="2201.4" y1="51.8" x2="2201.4" y2="66.8"/>
<line x1="2201.4" y1="1559.6" x2="2201.4" y2="1574.6"/>
<line x1="2241.3" y1="51.8" x2="2241.3" y2="66.8"/>
<line x1="2241.3" y1="1559.6" x2="2241.3" y2="1574.6"/>
<line x1="2273.8" y1="51.8" x2="2273.8" y2="66.8"/>
<line x1="2273.8" y1="1559.6" x2="2273.8" y2="1574.6"/>
<line x1="2303.3" y1="51.8" x2="2303.3" y2="66.8"/>
<line x1="2303.3" y1="1559.6" x2="2303.3" y2="1574.6"/>
</g>
<text transform="scale(0.945 1)"><tspan x="326.94" y="1597.90" font-size="137.0">0</tspan></text>
<text transform="scale(0.945 1)"><tspan x="327.34" y="1376.55" font-size="137.0">5</tspan></text>
<text transform="scale(0.945 1)"><tspan x="250.74" y="1155.20" font-size="137.0">10</tspan></text>
<text transform="scale(0.945 1)"><tspan x="251.14" y="933.85" font-size="137.0">15</tspan></text>
<text transform="scale(0.945 1)"><tspan x="250.74" y="712.50" font-size="137.0">20</tspan></text>
<text transform="scale(0.945 1)"><tspan x="251.14" y="491.15" font-size="137.0">25</tspan></text>
<text transform="scale(0.945 1)"><tspan x="250.74" y="269.80" font-size="137.0">30</tspan></text>
<text transform="scale(0.961 1)"><tspan x="649.53" y="1716.50" font-size="114.5">10</tspan><tspan x="775.84" y="1670.00" font-size="80.0">-4</tspan></text>
<text transform="scale(0.961 1)"><tspan x="1077.21" y="1716.50" font-size="114.5">10</tspan><tspan x="1203.52" y="1670.00" font-size="80.0">-3</tspan></text>
<text transform="scale(0.961 1)"><tspan x="1504.89" y="1716.50" font-size="114.5">10</tspan><tspan x="1631.20" y="1670.00" font-size="80.0">-2</tspan></text>
<text transform="scale(0.961 1)"><tspan x="1932.57" y="1716.50" font-size="114.5">10</tspan><tspan x="2058.88" y="1670.00" font-size="80.0">-1</tspan></text>
<text transform="scale(0.9565 1)"><tspan x="995.40" y="1899.50" font-size="138.0">C</tspan><tspan x="1096.68" y="1919.00" font-size="96.6">chitosan </tspan><tspan x="1494.20" y="1899.50" font-size="138.0">/ </tspan><tspan x="1571.79" y="1899.50" font-size="138.0">(g</tspan><tspan x="1700.16" y="1899.50" font-size="138.0">/</tspan><tspan x="1737.03" y="1899.50" font-size="138.0">L</tspan><tspan x="1824.18" y="1899.50" font-size="138.0">)</tspan></text>
<text transform="translate(146.10 1342.70) rotate(-90) scale(0.952 1)" font-size="138.0">SFG Integral / a.u.</text>
<rect x="1411.3" y="125.6" width="67.2" height="67.2" fill="#555555" stroke="#000" stroke-width="4.6" stroke-linejoin="round"/>
<circle cx="1444.3" cy="282.4" r="38.5" fill="#f04444" stroke="#000" stroke-width="4.6"/>
<text transform="scale(0.976 1)"><tspan x="1609.32" y="188.50" font-size="91.5">3200 cm</tspan><tspan x="1963.26" y="153.40" font-size="66.0">-1</tspan></text>
<text transform="scale(0.976 1)"><tspan x="1609.32" y="311.70" font-size="91.5">3500−3600 cm</tspan><tspan x="2216.74" y="276.30" font-size="66.0">-1</tspan></text>
</svg>
</body></html>
